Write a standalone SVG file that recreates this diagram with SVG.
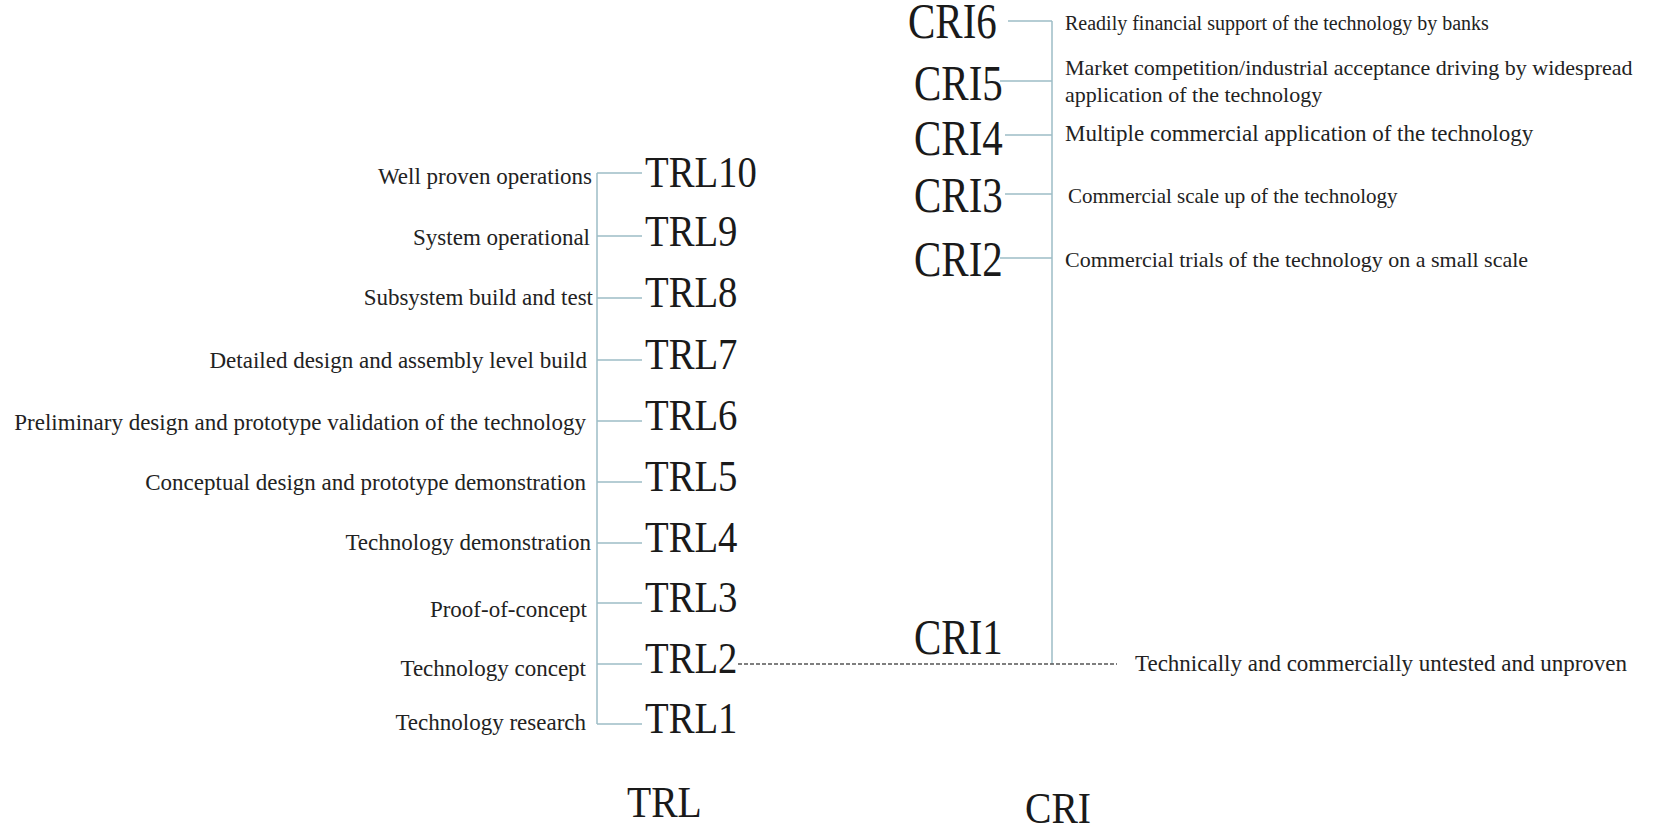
<svg xmlns="http://www.w3.org/2000/svg" width="1675" height="823" viewBox="0 0 1675 823">
<style>
.bg{fill:#ffffff}
.ln{stroke:#9dbdc6;stroke-width:1.5;fill:none}
.dash{stroke:#555;stroke-width:1.3;stroke-dasharray:4 2;fill:none}
.s{font-family:"Liberation Serif","Times New Roman",serif;font-size:23px;fill:#222}
.l{text-anchor:end}
.big{font-family:"Liberation Serif","Times New Roman",serif;fill:#1a1a1a}
.trl{font-size:44px}
.cri{font-size:50px}
</style>
<rect class="bg" x="0" y="0" width="1675" height="823"/>
<g id="connectors">
<path class="ln" d="M597 173V724"/>
<path class="ln" d="M597 173H642M597 236H642M597 298H642M597 360H642M597 421H642M597 482H642M597 543H642M597 603H642M597 664H642M597 724H642"/>
<path class="ln" d="M1052 21V664"/>
<path class="ln" d="M1008 21H1052M1000 81H1052M1005 135H1052M1005 194H1052M1000 258H1052"/>
<path class="dash" d="M738 664H1117"/>
</g>
<g id="TRL10"><text class="big trl" transform="translate(645,187) scale(0.88,1)">TRL10</text><text class="s l" x="592" y="184">Well proven operations</text></g>
<g id="TRL9"><text class="big trl" transform="translate(645,246) scale(0.88,1)">TRL9</text><text class="s l" x="590" y="245">System operational</text></g>
<g id="TRL8"><text class="big trl" transform="translate(645,307) scale(0.88,1)">TRL8</text><text class="s l" x="593" y="305">Subsystem build and test</text></g>
<g id="TRL7"><text class="big trl" transform="translate(645,369) scale(0.88,1)">TRL7</text><text class="s l" x="587" y="368">Detailed design and assembly level build</text></g>
<g id="TRL6"><text class="big trl" transform="translate(645,430) scale(0.88,1)">TRL6</text><text class="s l" x="586" y="430">Preliminary design and prototype validation of the technology</text></g>
<g id="TRL5"><text class="big trl" transform="translate(645,491) scale(0.88,1)">TRL5</text><text class="s l" x="586" y="490">Conceptual design and prototype demonstration</text></g>
<g id="TRL4"><text class="big trl" transform="translate(645,552) scale(0.88,1)">TRL4</text><text class="s l" x="591" y="550">Technology demonstration</text></g>
<g id="TRL3"><text class="big trl" transform="translate(645,612) scale(0.88,1)">TRL3</text><text class="s l" x="587" y="617">Proof-of-concept</text></g>
<g id="TRL2"><text class="big trl" transform="translate(645,673) scale(0.88,1)">TRL2</text><text class="s l" x="586" y="676">Technology concept</text></g>
<g id="TRL1"><text class="big trl" transform="translate(645,733) scale(0.88,1)">TRL1</text><text class="s l" x="586" y="730">Technology research</text></g>
<g id="CRI6"><text class="big cri" transform="translate(908,38) scale(0.82,1)">CRI6</text><text class="s" x="1065" y="30" style="font-size:20px">Readily financial support of the technology by banks</text></g>
<g id="CRI5"><text class="big cri" transform="translate(914,100) scale(0.82,1)">CRI5</text><text class="s" x="1065" y="75" style="font-size:22px">Market competition/industrial acceptance driving by widespread</text><text class="s" x="1065" y="102" style="font-size:22px">application of the technology</text></g>
<g id="CRI4"><text class="big cri" transform="translate(914,155) scale(0.82,1)">CRI4</text><text class="s" x="1065" y="141">Multiple commercial application of the technology</text></g>
<g id="CRI3"><text class="big cri" transform="translate(914,212) scale(0.82,1)">CRI3</text><text class="s" x="1068" y="203" style="font-size:21px">Commercial scale up of the technology</text></g>
<g id="CRI2"><text class="big cri" transform="translate(914,276) scale(0.82,1)">CRI2</text><text class="s" x="1065" y="267" style="font-size:22px">Commercial trials of the technology on a small scale</text></g>
<g id="CRI1"><text class="big cri" transform="translate(914,654) scale(0.82,1)">CRI1</text><text class="s" x="1135" y="671">Technically and commercially untested and unproven</text></g>
<g id="axis-TRL"><text class="big trl" transform="translate(627,817) scale(0.9,1)">TRL</text></g>
<g id="axis-CRI"><text class="big trl" transform="translate(1025,823) scale(0.9,1)">CRI</text></g>
</svg>
